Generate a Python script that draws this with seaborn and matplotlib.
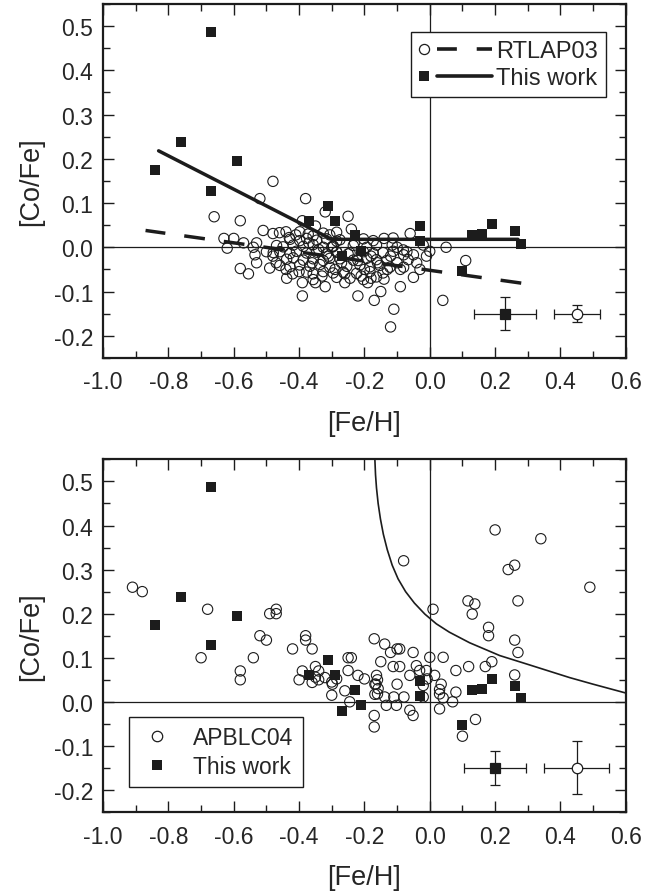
import matplotlib
matplotlib.use("Agg")
import matplotlib.pyplot as plt
import seaborn as sns
from matplotlib.lines import Line2D
from matplotlib.legend_handler import HandlerBase
from matplotlib.ticker import MultipleLocator, FormatStrFormatter

# "This work" stars (same in both panels)
work_feh = [-0.84, -0.76, -0.67, -0.67, -0.59, -0.37, -0.31, -0.29, -0.27, -0.23,
            -0.21, -0.03, -0.03, 0.10, 0.13, 0.16, 0.19, 0.26, 0.28]
work_cofe = [0.175, 0.238, 0.487, 0.128, 0.195, 0.060, 0.094, 0.060, -0.020, 0.027,
             -0.008, 0.047, 0.014, -0.053, 0.027, 0.030, 0.052, 0.037, 0.008]

# RTLAP03 stars, top panel: isolated points
rtlap_feh = [-0.66, -0.58, -0.52, -0.48, -0.38, -0.32, -0.25, -0.39, -0.35, -0.24,
             -0.51, -0.63, -0.60, -0.62, -0.57, -0.53, -0.54, -0.535, -0.53, -0.58,
             -0.555, -0.49, -0.48, -0.43, -0.44, -0.42, -0.39, -0.39, -0.35, -0.32,
             -0.26, -0.22, -0.19, -0.14, -0.17, -0.15, -0.11, -0.12, -0.09, -0.05,
             -0.09, -0.08, -0.05, -0.066, -0.115, -0.10, -0.14, -0.06, -0.01, 0.00,
             0.05, 0.11, 0.04, -0.48, -0.46]
rtlap_cofe = [0.069, 0.060, 0.110, 0.149, 0.110, 0.080, 0.070, 0.060, 0.048, 0.041,
              0.038, 0.020, 0.020, -0.002, 0.010, 0.010, 0.000, -0.017, -0.035, -0.048,
              -0.060, -0.047, -0.020, 0.022, -0.050, -0.060, -0.080, -0.110, -0.080, -0.089,
              -0.080, -0.110, -0.080, -0.072, -0.120, -0.100, -0.140, -0.180, -0.089, -0.068,
              -0.050, -0.017, -0.017, -0.028, 0.005, 0.000, 0.020, 0.031, -0.020, -0.009,
              0.000, -0.030, -0.120, 0.031, 0.033]

# RTLAP03 stars, top panel: crowded cloud around [Fe/H] = -0.3
cloud_feh = [-0.398, -0.372, -0.357, -0.326, -0.306, -0.285,
             -0.428, -0.398, -0.377, -0.346, -0.316, -0.285,
             -0.469, -0.449, -0.418, -0.387, -0.357, -0.326, -0.296,
             -0.479, -0.459, -0.428, -0.408, -0.377, -0.346, -0.316, -0.285,
             -0.438, -0.418, -0.387, -0.357, -0.326, -0.306,
             -0.459, -0.428, -0.398, -0.367, -0.336, -0.306,
             -0.377, -0.357, -0.326, -0.296,
             -0.438, -0.357, -0.285,
             -0.275, -0.203, -0.173, -0.112,
             -0.295, -0.234, -0.193, -0.163,
             -0.285, -0.244, -0.203, -0.173, -0.143, -0.112, -0.081,
             -0.275, -0.234, -0.193, -0.163, -0.132,
             -0.254, -0.214, -0.183, -0.153, -0.122,
             -0.265, -0.224, -0.183, -0.143,
             -0.244, -0.203, -0.163,
             -0.44, -0.41, -0.37, -0.34, -0.31, -0.30, -0.27, -0.25, -0.23, -0.22,
             -0.20, -0.18, -0.16, -0.13, -0.12, -0.10, -0.08, -0.07, -0.04, -0.03,
             -0.02, -0.40, -0.36, -0.33, -0.29, -0.26, -0.21, -0.18, -0.50, -0.47]
cloud_cofe = [0.035, 0.030, 0.026, 0.032, 0.028, 0.034,
              0.018, 0.015, 0.020, 0.016, 0.019, 0.014,
              0.004, 0.001, 0.005, 0.002, 0.006, 0.000, 0.003,
              -0.012, -0.010, -0.014, -0.009, -0.013, -0.011, -0.015, -0.010,
              -0.027, -0.024, -0.029, -0.026, -0.030, -0.025,
              -0.041, -0.044, -0.040, -0.043, -0.039, -0.045,
              -0.056, -0.060, -0.055, -0.058,
              -0.070, -0.073, -0.068,
              0.017, 0.019, 0.015, 0.021,
              0.002, 0.004, 0.000, 0.005,
              -0.011, -0.013, -0.010, -0.014, -0.012, -0.009, -0.006,
              -0.026, -0.029, -0.025, -0.028, -0.030,
              -0.043, -0.040, -0.044, -0.041, -0.045,
              -0.056, -0.059, -0.055, -0.058,
              -0.070, -0.073, -0.067,
              0.035, 0.028, 0.010, -0.005, -0.020, 0.000, -0.035, -0.015, 0.010, -0.030,
              -0.050, -0.020, -0.035, -0.050, -0.020, -0.035, -0.045, -0.010, -0.035, -0.050,
              0.005, -0.055, -0.035, -0.065, -0.050, -0.060, -0.065, -0.070, -0.010, -0.035]

# APBLC04 stars, bottom panel
apblc_feh = [-0.91, -0.88, -0.68, -0.49, -0.47, -0.47, -0.52, -0.50, -0.70, -0.54,
             -0.58, -0.58, -0.42, -0.38, -0.38, -0.36, -0.39, -0.40, -0.36, -0.35,
             -0.35, -0.34, -0.34, -0.30, -0.30, -0.285, -0.26, -0.245, -0.25, -0.24,
             -0.25, -0.22, -0.20, -0.17, -0.17, -0.17, -0.168, -0.168, -0.138, -0.12,
             -0.10, -0.092, -0.15, -0.112, -0.092, -0.10, -0.163, -0.16, -0.165, -0.158,
             -0.16, -0.138, -0.01, -0.008, -0.031, -0.041, -0.051, -0.061, -0.02, -0.02,
             -0.079, -0.11, -0.133, -0.102, -0.061, -0.051, 0.01, 0.117, 0.138, 0.13,
             0.27, 0.18, 0.18, 0.26, 0.27, 0.19, 0.17, 0.119, 0.08, 0.041,
             0.0, 0.015, 0.035, 0.03, 0.03, 0.041, 0.03, 0.07, 0.08, 0.26,
             0.14, 0.10, 0.20, 0.34, -0.08, 0.24, 0.26, 0.49, -0.321, -0.298]
apblc_cofe = [0.26, 0.25, 0.21, 0.20, 0.21, 0.20, 0.15, 0.14, 0.10, 0.10,
              0.07, 0.05, 0.12, 0.15, 0.14, 0.12, 0.07, 0.05, 0.044, 0.056,
              0.08, 0.07, 0.05, 0.045, 0.015, 0.052, 0.025, 0.0, 0.10, 0.10,
              0.071, 0.06, 0.052, 0.143, -0.031, -0.057, 0.04, 0.017, 0.131, 0.112,
              0.12, 0.12, 0.091, 0.08, 0.08, 0.04, 0.06, 0.05, 0.04, 0.03,
              0.018, 0.011, 0.071, 0.052, 0.071, 0.082, 0.112, 0.06, 0.037, 0.011,
              0.011, 0.011, -0.008, -0.008, -0.019, -0.031, 0.21, 0.229, 0.222, 0.199,
              0.229, 0.169, 0.15, 0.14, 0.112, 0.091, 0.08, 0.08, 0.071, 0.101,
              0.101, 0.06, 0.04, 0.028, 0.018, 0.009, -0.016, 0.0, 0.022, 0.061,
              -0.04, -0.078, 0.39, 0.37, 0.32, 0.30, 0.31, 0.26, 0.055, 0.04]

# fits in the top panel
work_fit_feh = [-0.83, -0.30, 0.27]
work_fit_cofe = [0.218, 0.018, 0.018]
rtlap_fit_feh = [0.28, -0.87]
rtlap_fit_cofe = [-0.081, 0.038]

# curve in the bottom panel
curve_feh = [-0.168, -0.166, -0.163, -0.158, -0.151, -0.142, -0.130, -0.115, -0.097,
             -0.074, -0.047, -0.015, 0.02, 0.06, 0.122, 0.214, 0.3, 0.428, 0.5, 0.6]
curve_cofe = [0.55, 0.515, 0.485, 0.45, 0.415, 0.38, 0.345, 0.31, 0.279,
              0.25, 0.224, 0.199, 0.177, 0.158, 0.134, 0.105, 0.085, 0.055, 0.04, 0.02]

# typical error bars: (feh, cofe, xerr, yerr)
top_err_work = (0.23, -0.15, 0.095, 0.038)
top_err_rtlap = (0.45, -0.15, 0.07, 0.019)
bot_err_work = (0.20, -0.15, 0.095, 0.038)
bot_err_apblc = (0.45, -0.15, 0.10, 0.06)

INK = '#1c1c1c'


class MarkerThenLine(HandlerBase):
  # legend key: marker on the left, line on the right
  def create_artists(self, legend, orig_handle, xdescent, ydescent,
                     width, height, fontsize, trans):
    mark, line = orig_handle
    y = height / 2 - ydescent
    x0 = -xdescent
    m = Line2D([x0 + 0.07 * width], [y], ls='none', marker=mark.get_marker(),
               ms=mark.get_markersize(), mfc=mark.get_markerfacecolor(),
               mec=mark.get_markeredgecolor(), mew=mark.get_markeredgewidth())
    ln = Line2D([x0 + 0.25 * width, x0 + width], [y, y], color=line.get_color(),
                lw=line.get_linewidth(), ls=line.get_linestyle())
    if line.get_linestyle() not in ('-', 'solid'):
      ln.set_dashes((5.5, 5.5))
    m.set_transform(trans)
    ln.set_transform(trans)
    return [m, ln]


def style_axes(ax):
  ax.set_xlim(-1.0, 0.6)
  ax.set_ylim(-0.25, 0.55)
  ax.xaxis.set_major_locator(MultipleLocator(0.2))
  ax.xaxis.set_minor_locator(MultipleLocator(0.1))
  ax.yaxis.set_major_locator(MultipleLocator(0.1))
  ax.yaxis.set_minor_locator(MultipleLocator(0.05))
  ax.xaxis.set_major_formatter(FormatStrFormatter('%.1f'))
  ax.yaxis.set_major_formatter(FormatStrFormatter('%.1f'))
  ax.tick_params(which='both', direction='in', top=True, right=True,
                 width=1.0, color=INK, labelsize=16.5)
  ax.tick_params(which='major', length=8)
  ax.tick_params(which='minor', length=5)
  ax.tick_params(axis='x', pad=9)
  ax.tick_params(axis='y', pad=7)
  for s in ax.spines.values():
    s.set_linewidth(1.6)
    s.set_color(INK)
  ax.axhline(0, color=INK, lw=0.9, zorder=1)
  ax.axvline(0, color=INK, lw=0.9, zorder=1)
  ax.set_xlabel('[Fe/H]', fontsize=19.5, labelpad=12)
  ax.set_ylabel('[Co/Fe]', fontsize=19.5, labelpad=7)


def error_marks(ax, err, marker, face):
  x, y, xe, ye = err
  ax.errorbar([x], [y], xerr=[xe], yerr=[ye], fmt=marker, ms=7.5,
              mfc=face, mec=INK, mew=0.9, ecolor=INK, elinewidth=0.9,
              capsize=3.5, capthick=0.9, zorder=5)


sns.set_style("ticks")
plt.rcParams['font.family'] = ['Liberation Sans', 'DejaVu Sans']
plt.rcParams['axes.unicode_minus'] = False

fig = plt.figure(figsize=(6.65, 8.95), dpi=100)
ax1 = fig.add_axes([0.155, 0.599, 0.786, 0.3955])
ax2 = fig.add_axes([0.155, 0.0916, 0.786, 0.394])

# ---- top panel: RTLAP03 vs this work
style_axes(ax1)
sns.scatterplot(x=rtlap_feh + cloud_feh, y=rtlap_cofe + cloud_cofe, ax=ax1,
                marker='o', s=55, facecolor='none', edgecolor=INK,
                linewidth=0.8, zorder=2)
sns.lineplot(x=rtlap_fit_feh, y=rtlap_fit_cofe, ax=ax1, color=INK, lw=2.5,
             dashes=(6, 5.5), estimator=None, sort=False, zorder=3)
sns.lineplot(x=work_fit_feh, y=work_fit_cofe, ax=ax1, color=INK, lw=2.5,
             estimator=None, sort=False, zorder=3)
sns.scatterplot(x=work_feh, y=work_cofe, ax=ax1, marker='s', s=60,
                color=INK, edgecolor=INK, linewidth=0, zorder=4)
error_marks(ax1, top_err_work, 's', INK)
error_marks(ax1, top_err_rtlap, 'o', 'white')

h_rtlap = (Line2D([], [], ls='none', marker='o', ms=7.3, mfc='white', mec=INK, mew=0.9),
           Line2D([], [], color=INK, lw=2.6, ls='--'))
h_work = (Line2D([], [], ls='none', marker='s', ms=7.3, mfc=INK, mec=INK, mew=0),
          Line2D([], [], color=INK, lw=2.6, ls='-'))
leg1 = ax1.legend([h_rtlap, h_work], ['RTLAP03', 'This work'],
                  handler_map={tuple: MarkerThenLine()},
                  loc='upper right', bbox_to_anchor=(0.962, 0.921),
                  borderaxespad=0, fontsize=17, handlelength=3.1,
                  handletextpad=0.15, labelspacing=0.2, borderpad=0.35,
                  fancybox=False, framealpha=1, edgecolor=INK)
leg1.get_frame().set_linewidth(1.0)

# ---- bottom panel: APBLC04 vs this work
style_axes(ax2)
sns.lineplot(x=curve_feh, y=curve_cofe, ax=ax2, color=INK, lw=1.2,
             estimator=None, sort=False, zorder=3)
sns.scatterplot(x=apblc_feh, y=apblc_cofe, ax=ax2, marker='o', s=55,
                facecolor='none', edgecolor=INK, linewidth=0.8, zorder=2)
sns.scatterplot(x=work_feh, y=work_cofe, ax=ax2, marker='s', s=60,
                color=INK, edgecolor=INK, linewidth=0, zorder=4)
error_marks(ax2, bot_err_work, 's', INK)
error_marks(ax2, bot_err_apblc, 'o', 'white')

h_apblc = Line2D([], [], ls='none', marker='o', ms=7.5, mfc='white', mec=INK, mew=0.9)
h_work2 = Line2D([], [], ls='none', marker='s', ms=7.5, mfc=INK, mec=INK, mew=0)
leg2 = ax2.legend([h_apblc, h_work2], ['APBLC04', 'This work'],
                  loc='lower left', bbox_to_anchor=(0.05, 0.071),
                  borderaxespad=0, fontsize=16.5, handlelength=1.6,
                  handletextpad=0.8, labelspacing=0.25, borderpad=0.4,
                  fancybox=False, framealpha=1, edgecolor=INK)
leg2.get_frame().set_linewidth(1.0)

fig.savefig('out.png', dpi=100)
